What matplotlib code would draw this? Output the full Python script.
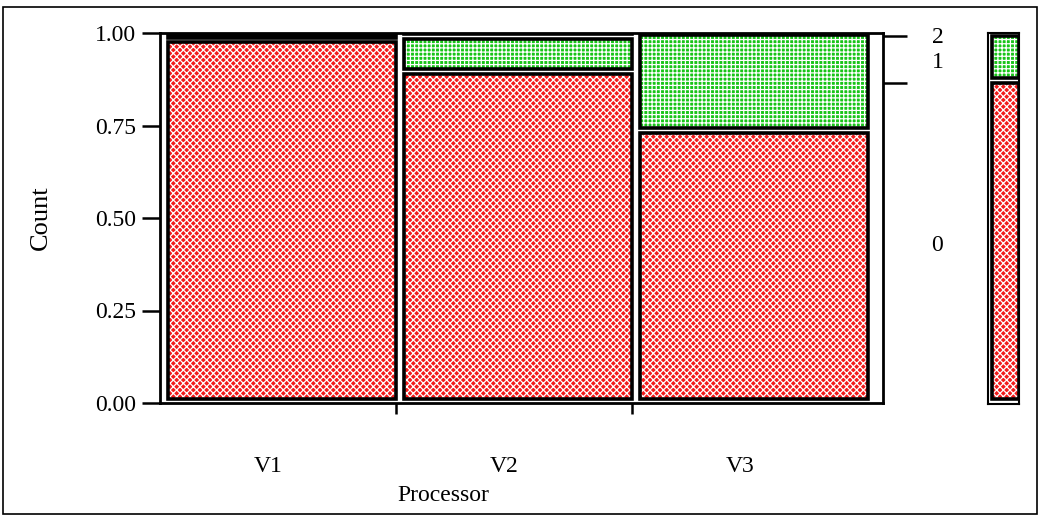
"""
Mosaic plot: Count share by Processor (V1, V2, V3), levels 0 / 1 / 2
"""
import matplotlib
matplotlib.use("Agg")
import matplotlib.pyplot as plt
from matplotlib.patches import Rectangle
import numpy as np

#%%
# data
processors = ["V1", "V2", "V3"]
levels = ["0", "1", "2"]
share_0 = [0.975, 0.890, 0.730]
share_1 = [0.020, 0.095, 0.265]
share_2 = [0.005, 0.015, 0.005]
y_ticks = [0.00, 0.25, 0.50, 0.75, 1.00]

#%%
plt.rcParams["font.family"] = ["Liberation Serif", "DejaVu Serif"]
plt.rcParams["hatch.linewidth"] = 0.9

W, H = 1041, 515
fig = plt.figure(figsize=(W / 100, H / 100), dpi=100)

def px_axes(x0, y0, x1, y1):
    # pixel box (top-left origin) -> figure fraction
    return fig.add_axes([x0 / W, 1 - y1 / H, (x1 - x0) / W, (y1 - y0) / H])

styles = {
    "0": dict(facecolor="#f21c1c", hatch="xxxxx"),
    "1": dict(facecolor="#18c418", hatch="++++"),
    "2": dict(facecolor="#18c418", hatch="++++"),
}

def draw_cells(ax, xs, width, table, gap_x, gap_y, lw=2.6):
    lower = np.zeros(len(xs))
    for lev, vals in zip(levels, table):
        vals = np.array(vals)
        bottom = lower + gap_y
        height = np.clip(vals - gap_y, 0.003, None)
        # texture
        ax.bar(np.array(xs) + gap_x, height, width - gap_x, bottom=bottom,
               align="edge", edgecolor="white", linewidth=0, **styles[lev])
        # outline
        ax.bar(np.array(xs) + gap_x, height, width - gap_x, bottom=bottom,
               align="edge", fill=False, edgecolor="black", linewidth=lw)
        lower = lower + vals
    return lower

table = [share_0, share_1, share_2]

#%%
# main mosaic
ax = px_axes(160, 33, 883, 403)
n = len(processors)
ax.set_xlim(0, n * 723 / 708)
ax.set_ylim(0, 1)
draw_cells(ax, np.arange(n), 1.0, table, 0.034, 0.012)

for s in ax.spines.values():
    s.set_linewidth(2)
ax.set_yticks(y_ticks)
ax.set_yticklabels([f"{v:.2f}" for v in y_ticks], fontsize=17)
ax.tick_params(axis="y", length=13, width=1.8, pad=4)
ax.set_xticks(np.arange(1, n))
ax.set_xticklabels([])
ax.set_xticks(np.arange(n) + 0.46, minor=True)
ax.set_xticklabels(processors, minor=True, fontsize=17)
ax.tick_params(axis="x", which="major", length=8, width=1.8)
ax.tick_params(axis="x", which="minor", length=0, pad=38)
ax.set_ylabel("Count", fontsize=19)
ax.yaxis.set_label_coords(-0.150, 0.5)
ax.set_xlabel("Processor", fontsize=17)
ax.xaxis.set_label_coords(0.392, -0.222)

# right axis: marginal levels
overall = [np.mean(v) for v in table]
bounds = np.cumsum(overall)
ax2 = ax.twinx()
ax2.set_ylim(0, 1)
ax2.set_yticks([bounds[0], bounds[1]])
ax2.set_yticklabels([])
centers = bounds - np.array(overall) / 2
ax2.set_yticks(centers, minor=True)
ax2.set_yticklabels(levels, minor=True, fontsize=17)
ax2.tick_params(axis="y", which="major", length=17, width=1.8)
ax2.tick_params(axis="y", which="minor", length=0, pad=35)
for s in ax2.spines.values():
    s.set_visible(False)

#%%
# marginal bar on the right
ax3 = px_axes(988, 33, 1019, 404)
ax3.set_xlim(0, 1)
ax3.set_ylim(0, 1)
draw_cells(ax3, [0], 1.0, [[v] for v in overall], 0.14, 0.014)
for s in ax3.spines.values():
    s.set_linewidth(1.5)
ax3.set_xticks([])
ax3.set_yticks([])

# outer frame
fig.patches.append(Rectangle((3 / W, 1 / H), 1034 / W, 1 - 8 / H,
                             transform=fig.transFigure, fill=False,
                             edgecolor="black", linewidth=1.2))

fig.savefig("out.png", dpi=100)
